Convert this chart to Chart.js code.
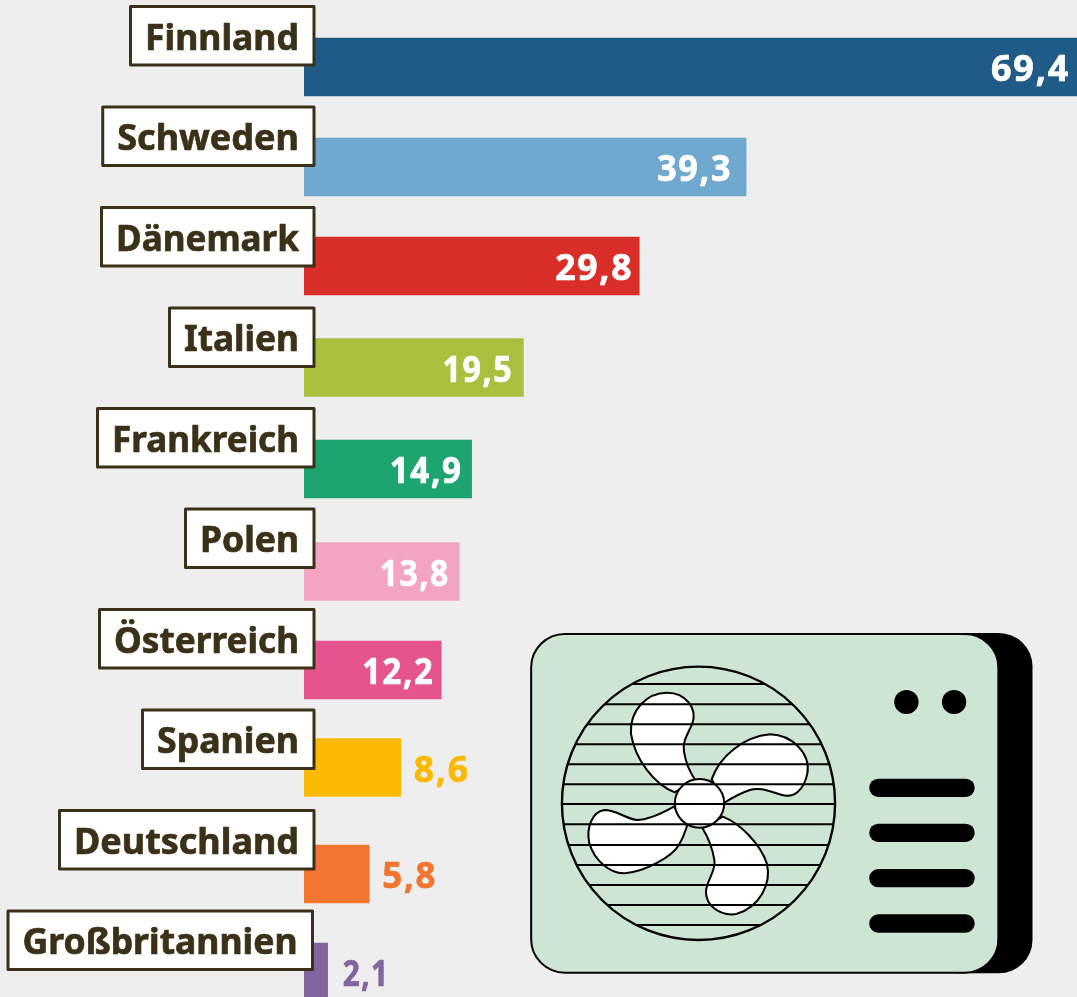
<!DOCTYPE html>
<html lang="de">
<head>
<meta charset="utf-8">
<title>Finnland bis Großbritannien</title>
<script src="https://cdn.jsdelivr.net/npm/chart.js@4"></script>
<style>
html,body{margin:0;padding:0;background:#eeeeee;overflow:hidden}
#wrap{width:1077px;height:997px;position:relative;overflow:hidden}
canvas{display:block}
</style>
</head>
<body>
<div id="wrap"><canvas id="c" width="1077" height="1022"></canvas></div>
<script>
const categories = ["Finnland","Schweden","Dänemark","Italien","Frankreich","Polen","Österreich","Spanien","Deutschland","Großbritannien"];
const values = [69.4,39.3,29.8,19.5,14.9,13.8,12.2,8.6,5.8,2.1];
const valueLabels = ["69,4","39,3","29,8","19,5","14,9","13,8","12,2","8,6","5,8","2,1"];
const colors = ["#205a87","#70a9d0","#da2e29","#a8c03e","#1ea56f","#f2a4c2","#e5548f","#fbb900","#f27530","#80659f"];

const barNudge = [0,-0.5,-2,-1,0,2,0,-3,3,0.5];
const valueGap = [7,14,6,10,9,9.5,7,13,13,15];
const nameFit = [154,182,183,115,187,99,185,142,225,275];
const valueFit = [79,75,78,71,73,70,72,56,55,47];
const INK = "#3a3118";
const FONT = 'bold 36px "Noto Sans"';

const backdrop = { id:"backdrop", beforeDraw(ch){ const g=ch.ctx; g.save(); g.fillStyle="#eeeeee"; g.fillRect(0,0,ch.width,ch.height); g.restore(); } };

const nudge = { id:"nudge", beforeDatasetsDraw(ch){
  ch.getDatasetMeta(0).data.forEach((b,i)=>{ b.y = ch.scales.y.getPixelForValue(i)+barNudge[i]; });
}};

function drawIcon(g){
  g.save();
  g.translate(520,620); g.scale(1/2.958,1/3);
  g.fillStyle="#000"; g.beginPath(); g.roundRect(1200,39,316,1021,100); g.fill();
  g.fillStyle="#cfe5d3"; g.strokeStyle="#000"; g.lineWidth=6;
  g.beginPath(); g.roundRect(33,42,1382,1016,100); g.fill(); g.stroke();
  g.fillStyle="#000";
  [[1143,246],[1284,246]].forEach(p=>{ g.beginPath(); g.arc(p[0],p[1],36,0,Math.PI*2); g.fill(); });
  [476,611,747,883].forEach(y=>{ g.beginPath(); g.roundRect(1033,y,312,55,27); g.fill(); });
  const blades = [
    [[458,517],[400,495,340,420,328,340],[325,270,375,218,435,218],[490,218,525,265,510,310],[495,345,480,365,485,395],[490,425,505,460,517,478]],
    [[567,478],[590,410,660,350,740,343],[805,345,860,400,850,460],[840,510,810,535,775,525],[740,515,710,500,680,510],[650,520,625,535,605,548]],
    [[455,560],[420,580,375,600,345,600],[310,595,285,570,250,570],[215,575,195,620,205,670],[220,720,265,762,310,760],[370,755,450,710,470,675],[485,650,490,630,494,618]],
    [[600,590],[650,610,710,670,730,730],[745,790,710,860,640,882],[590,890,550,855,550,815],[552,780,580,755,575,720],[570,690,555,650,540,625]]
  ];
  g.lineWidth=6; g.fillStyle="#fff"; g.strokeStyle="#000";
  blades.forEach(b=>{
    g.beginPath(); g.moveTo(b[0][0],b[0][1]);
    b.slice(1).forEach(c=>g.bezierCurveTo(...c));
    g.closePath(); g.fill(); g.stroke();
  });
  g.beginPath(); g.arc(531,550,73,0,Math.PI*2); g.fill(); g.stroke();
  g.save();
  g.beginPath(); g.ellipse(528,550,404,410,0,0,Math.PI*2); g.clip();
  g.lineWidth=6;
  [192,253,313,373,433,493,552,613,675,735,795,855,915].forEach(y=>{ g.beginPath(); g.moveTo(100,y); g.lineTo(960,y); g.stroke(); });
  g.restore();
  g.lineWidth=7; g.beginPath(); g.ellipse(528,550,404,410,0,0,Math.PI*2); g.stroke();
  g.restore();
}

const decor = { id:"decor", afterDatasetsDraw(ch){
  const g=ch.ctx, xs=ch.scales.x, ys=ch.scales.y, meta=ch.getDatasetMeta(0);
  drawIcon(g);
  g.save();
  g.font=FONT; g.textBaseline="middle"; g.lineJoin="round";
  categories.forEach((name,i)=>{
    const right = xs.getPixelForValue(0)+(i===9?8.5:10);
    const w = Math.min(g.measureText(name).width,nameFit[i]);
    const left = right-15-w-14.5;
    const cy = ys.getPixelForValue(i)-31.5;
    g.fillStyle="#fff"; g.strokeStyle=INK; g.lineWidth=3;
    g.beginPath(); g.rect(left,cy-29,right-left,58.5); g.fill(); g.stroke();
    g.fillStyle=INK; g.textAlign="right"; g.lineWidth=0.7;
    g.fillText(name,right-15,cy+4,nameFit[i]);
    g.strokeText(name,right-15,cy+4,nameFit[i]);
  });
  g.letterSpacing="1.8px";
  valueLabels.forEach((t,i)=>{
    const b=meta.data[i];
    const end=xs.getPixelForValue(values[i]);
    const inside=values[i]>=12;
    const ex=Math.min(end,ch.width);
    g.textAlign=inside?"right":"left";
    g.fillStyle=inside?"#fff":colors[i];
    g.strokeStyle=g.fillStyle; g.lineWidth=0.7;
    const px=inside?ex-valueGap[i]:ex+valueGap[i];
    g.fillText(t,px,b.y+4,valueFit[i]);
    g.strokeText(t,px,b.y+4,valueFit[i]);
  });
  g.restore();
}};

new Chart(document.getElementById("c"),{
  type:"bar",
  data:{labels:categories,datasets:[{data:values,backgroundColor:colors,borderWidth:0,barThickness:58}]},
  plugins:[backdrop,nudge,decor],
  options:{
    indexAxis:"y",responsive:false,animation:false,
    layout:{padding:{left:304,right:0,top:16.75,bottom:0.25}},
    plugins:{legend:{display:false},tooltip:{enabled:false}},
    scales:{
      x:{display:false,min:0,max:68.71},
      y:{display:false}
    }
  }
});
</script>
</body>
</html>
